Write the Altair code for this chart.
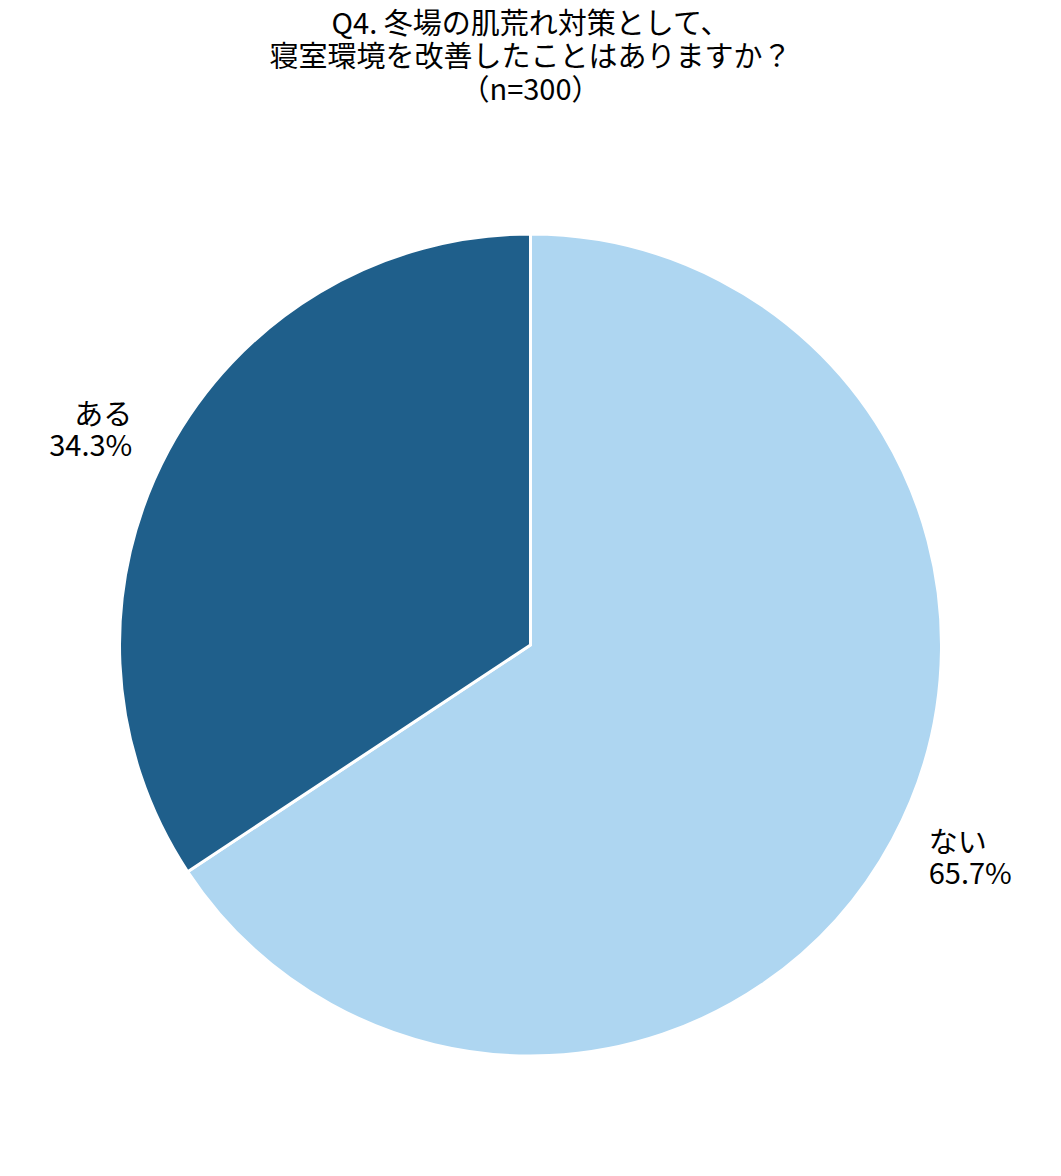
import altair as alt
import pandas as pd

categories = ["ない", "ある"]
values = [65.7, 34.3]
labels = ["ない\n65.7%", "ある\n34.3%"]
colors = ["#aed6f1", "#1f5f8b"]
order = [0, 1]

df = pd.DataFrame({"cat": categories, "value": values, "label": labels, "ord": order})

FONT = "Noto Sans CJK JP"
R = 411
theta_scale = alt.Scale(domain=[0, 100])

arcs = alt.Chart(df).mark_arc(outerRadius=R, stroke="white", strokeWidth=3).encode(
    theta=alt.Theta("value:Q", stack=True, scale=theta_scale),
    order=alt.Order("ord:Q"),
    color=alt.Color("cat:N", scale=alt.Scale(domain=categories, range=colors), legend=None),
)


def label_layer(cat, align):
    return (
        alt.Chart(df)
        .transform_window(cum="sum(value)", sort=[alt.SortField("ord")])
        .transform_calculate(mid="datum.cum - datum.value / 2")
        .transform_filter(alt.datum.cat == cat)
        .mark_text(
            radius=R * 1.1, align=align, baseline="middle", font=FONT, fontSize=29,
            lineBreak="\n", lineHeight=31, dy=-15, color="black",
        )
        .encode(
            theta=alt.Theta("mid:Q", stack=None, scale=theta_scale),
            text="label:N",
        )
    )


chart = alt.layer(arcs, label_layer("ない", "left"), label_layer("ある", "right")).properties(
    width=1045,
    height=1054,
    padding={"top": 110, "left": 0, "right": 0, "bottom": 0},
    autosize=alt.AutoSizeParams(type="none"),
    title=alt.TitleParams(
        text=["Q4. 冬場の肌荒れ対策として、", "寝室環境を改善したことはありますか？", "（n=300）"],
        font=FONT, fontSize=29, fontWeight="normal", lineHeight=33,
        anchor="middle", color="black", offset=12,
    ),
).configure_view(stroke=None).configure(background="white")

chart.save("out.html", embed_options={"renderer": "svg", "actions": False})
